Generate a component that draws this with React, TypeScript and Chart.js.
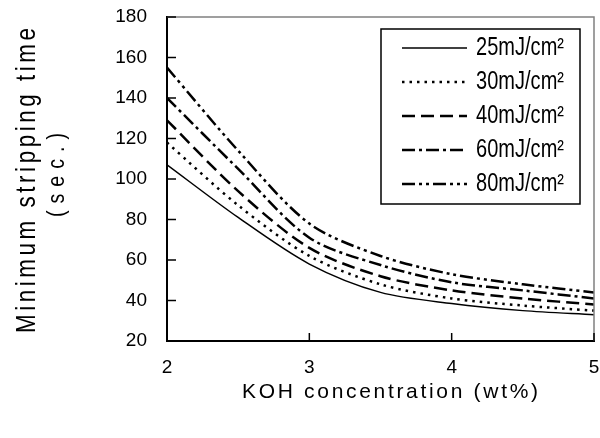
import React, { useEffect, useRef } from 'react';
import { Chart, registerables } from 'chart.js';

Chart.register(...registerables);

const concentrations = [2, 2.5, 3, 3.5, 4, 4.5, 5];
const series25 = [107, 81, 58, 44, 38.5, 35, 33];
const series30 = [118, 87, 62, 48, 41, 37.5, 35];
const series40 = [129, 94, 66, 52, 45, 41, 38];
const series60 = [140, 105, 71, 57.5, 49, 45, 41];
const series80 = [155, 114, 78, 62, 53, 48, 44];
const seriesLabels = ['25mJ/cm²', '30mJ/cm²', '40mJ/cm²', '60mJ/cm²', '80mJ/cm²'];
const xTitle = 'KOH concentration (wt%)';
const yTitleLines = ['Minimum stripping time', '(sec.)'];

const TITLE_FONT = '"Liberation Sans", Arial, sans-serif';
const TICK_FONT = '"Liberation Sans", Arial, sans-serif';

// draws text starting at (left, y) in current frame, horizontally scaled by sx,
// with letter spacing chosen so that the visible width equals target
function spacedText(ctx: CanvasRenderingContext2D, text: string, left: number, y: number, target: number, sx: number) {
  const c: any = ctx;
  ctx.save();
  ctx.translate(left, y);
  ctx.scale(sx, 1);
  c.letterSpacing = '0px';
  const w = ctx.measureText(text).width;
  const n = Array.from(text).length;
  const s = n > 1 ? Math.max(0, (target / sx - w) / (n - 1)) : 0;
  if ('letterSpacing' in c) c.letterSpacing = s + 'px';
  ctx.textAlign = 'left';
  ctx.fillText(text, 0, 0);
  c.letterSpacing = '0px';
  ctx.restore();
}

const decorPlugin = {
  id: 'decor',
  afterDraw(chart: any) {
    const { ctx, chartArea: a, scales } = chart;
    const xs = scales.x;
    const ys = scales.y;
    ctx.save();
    // top & right frame
    ctx.strokeStyle = '#808080';
    ctx.lineWidth = 1.5;
    ctx.setLineDash([]);
    ctx.beginPath();
    ctx.moveTo(a.left, a.top);
    ctx.lineTo(a.right, a.top);
    ctx.lineTo(a.right, a.bottom);
    ctx.stroke();
    // inward ticks
    ctx.strokeStyle = '#000';
    ctx.lineWidth = 1.5;
    ys.ticks.forEach((t: any) => {
      const py = ys.getPixelForValue(t.value);
      ctx.beginPath();
      ctx.moveTo(a.left, py);
      ctx.lineTo(a.left + 9, py);
      ctx.stroke();
    });
    xs.ticks.forEach((t: any) => {
      const px = xs.getPixelForValue(t.value);
      ctx.beginPath();
      ctx.moveTo(px, a.bottom);
      ctx.lineTo(px, a.bottom - 8);
      ctx.stroke();
    });

    // legend box
    const lx = 381, ly = 29, lw = 199, lh = 175;
    ctx.fillStyle = '#fff';
    ctx.fillRect(lx, ly, lw, lh);
    ctx.strokeStyle = '#000';
    ctx.lineWidth = 1.5;
    ctx.strokeRect(lx, ly, lw, lh);
    ctx.font = '25px ' + TITLE_FONT;
    ctx.fillStyle = '#000';
    ctx.textBaseline = 'alphabetic';
    chart.data.datasets.forEach((ds: any, i: number) => {
      const ry = 48 + i * 34;
      ctx.strokeStyle = '#000';
      ctx.lineWidth = ds.borderWidth;
      ctx.setLineDash(ds.borderDash || []);
      ctx.beginPath();
      ctx.moveTo(402, ry);
      ctx.lineTo(467, ry);
      ctx.stroke();
      ctx.setLineDash([]);
      spacedText(ctx, ds.label, 476, ry + 7, 88, 0.8);
    });

    // axis titles
    ctx.fillStyle = '#000';
    ctx.textBaseline = 'alphabetic';
    ctx.font = '21px ' + TITLE_FONT;
    spacedText(ctx, xTitle, 242, 398, 296, 1);

    ctx.save();
    ctx.translate(0, 181);
    ctx.rotate(-Math.PI / 2);
    ctx.font = '28px ' + TITLE_FONT;
    spacedText(ctx, yTitleLines[0], -152, 35, 305, 0.8);
    ctx.restore();
    ctx.save();
    ctx.translate(0, 175);
    ctx.rotate(-Math.PI / 2);
    ctx.font = '23px ' + TITLE_FONT;
    spacedText(ctx, yTitleLines[1], -42, 64, 84, 0.85);
    ctx.restore();

    ctx.restore();
  },
};

export default function App() {
  const ref = useRef<HTMLCanvasElement | null>(null);
  useEffect(() => {
    if (!ref.current) return;
    const mk = (label: string, vals: number[], dash: number[], width: number) => ({
      label,
      data: concentrations.map((c, i) => ({ x: c, y: vals[i] })),
      borderColor: '#000',
      backgroundColor: '#000',
      borderWidth: width,
      borderDash: dash,
      pointRadius: 0,
      tension: 0.3,
      fill: false,
    });
    const chart = new Chart(ref.current, {
      type: 'line',
      data: {
        datasets: [
          mk(seriesLabels[0], series25, [], 1.5),
          mk(seriesLabels[1], series30, [2.5, 5], 2.5),
          mk(seriesLabels[2], series40, [13, 6], 2.5),
          mk(seriesLabels[3], series60, [13, 4, 3, 4], 2.5),
          mk(seriesLabels[4], series80, [13, 4, 3, 4, 3, 4], 2.5),
        ],
      },
      plugins: [decorPlugin],
      options: {
        animation: false,
        responsive: false,
        devicePixelRatio: 1,
        layout: { padding: { top: 17, right: 6, left: 0, bottom: 0 } },
        plugins: { legend: { display: false }, tooltip: { enabled: false }, title: { display: false } },
        scales: {
          x: {
            type: 'linear',
            min: 2,
            max: 5,
            grid: { display: false, drawTicks: false },
            border: { display: true, color: '#000', width: 2 },
            ticks: { stepSize: 1, padding: 15, color: '#000', font: { size: 19, family: TICK_FONT } },
            afterFit: (s: any) => { s.height = 97; s.paddingLeft = 0; s.paddingRight = 0; },
          },
          y: {
            type: 'linear',
            min: 20,
            max: 180,
            grid: { display: false, drawTicks: false },
            border: { display: true, color: '#000', width: 2 },
            ticks: { stepSize: 20, padding: 20, color: '#000', font: { size: 19, family: TICK_FONT } },
            afterFit: (s: any) => { s.width = 167; s.paddingTop = 0; s.paddingBottom = 0; },
          },
        },
      },
    } as any);
    return () => chart.destroy();
  }, []);
  return (
    <div style={{ position: 'fixed', left: 0, top: 0, width: 600, height: 438, background: '#fff' }}>
      <canvas ref={ref} width={600} height={438} style={{ display: 'block' }} />
    </div>
  );
}
